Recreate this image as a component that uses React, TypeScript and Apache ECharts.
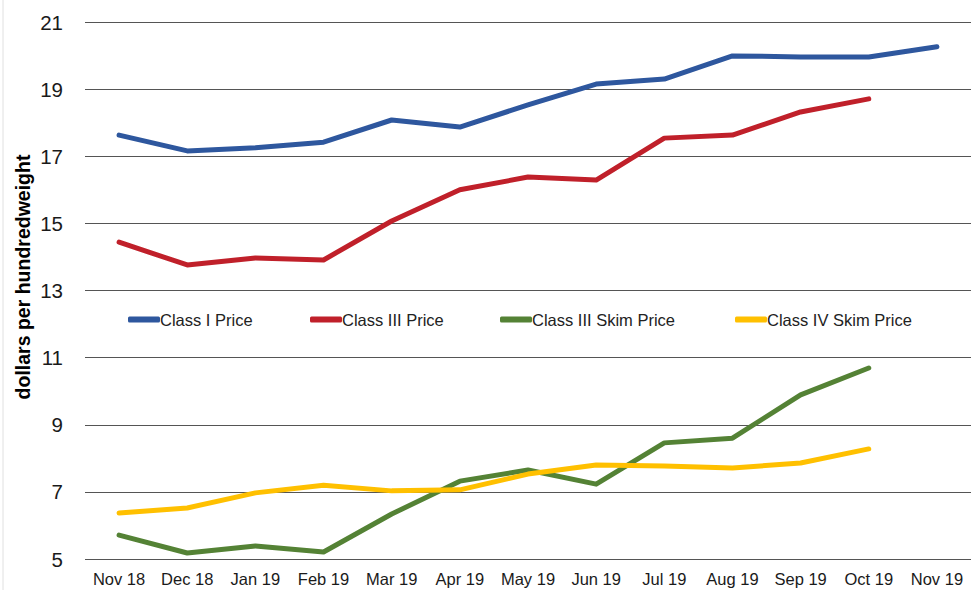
import React, { useEffect, useRef } from "react";
import * as echarts from "echarts";

const categories = ["Nov 18", "Dec 18", "Jan 19", "Feb 19", "Mar 19", "Apr 19", "May 19", "Jun 19", "Jul 19", "Aug 19", "Sep 19", "Oct 19", "Nov 19"];
const classI = [17.63, 17.16, 17.25, 17.42, 18.08, 17.87, 18.53, 19.15, 19.3, 19.99, 19.96, 19.96, 20.26];
const classIII = [14.44, 13.76, 13.97, 13.91, 15.07, 16.0, 16.38, 16.29, 17.54, 17.63, 18.32, 18.71, null];
const classIIISkim = [5.71, 5.18, 5.39, 5.21, 6.34, 7.32, 7.65, 7.23, 8.46, 8.6, 9.89, 10.69, null];
const classIVSkim = [6.37, 6.52, 6.97, 7.2, 7.03, 7.06, 7.53, 7.8, 7.77, 7.71, 7.86, 8.28, null];

const seriesNames = ["Class I Price", "Class III Price", "Class III Skim Price", "Class IV Skim Price"];
const seriesColors = ["#2E579E", "#C0202A", "#548235", "#FFC000"];
const seriesData = [classI, classIII, classIIISkim, classIVSkim];
const legendLeft = [128, 310, 500, 735];
const yAxisTitle = "dollars per hundredweight";

const FONT = "'Liberation Sans', Arial, sans-serif";

export default function App() {
  const ref = useRef<HTMLDivElement>(null);
  useEffect(() => {
    if (!ref.current) return;
    const chart = echarts.init(ref.current, null, { renderer: "svg" });
    chart.setOption({
      animation: false,
      backgroundColor: "#ffffff",
      textStyle: { fontFamily: FONT },
      grid: { left: 85, right: 8, top: 22, bottom: 31, containLabel: false },
      legend: seriesNames.map((n, i) => ({
        data: [n],
        left: legendLeft[i],
        top: 311,
        icon: "roundRect",
        itemWidth: 32,
        itemHeight: 6,
        itemGap: 0,
        textStyle: { fontFamily: FONT, fontSize: 16.5, color: "#222", padding: [0, 0, 0, -5] },
        padding: 0,
      })),
      xAxis: {
        type: "category",
        data: categories,
        boundaryGap: true,
        axisLine: { show: false },
        axisTick: { show: false },
        axisLabel: { fontFamily: FONT, fontSize: 16.5, color: "#1a1a1a", margin: 11, interval: 0 },
      },
      yAxis: {
        type: "value",
        min: 5,
        max: 21,
        interval: 2,
        axisLine: { show: false },
        axisTick: { show: false },
        axisLabel: { fontFamily: FONT, fontSize: 20.5, color: "#1a1a1a", margin: 22 },
        splitLine: { lineStyle: { color: "#555", width: 1 } },
      },
      series: seriesNames.map((n, i) => ({
        name: n,
        type: "line",
        data: seriesData[i],
        showSymbol: false,
        symbol: "none",
        color: seriesColors[i],
        lineStyle: { width: 5, color: seriesColors[i], cap: "round", join: "round" },
        itemStyle: { color: seriesColors[i] },
      })),
      graphic: [
        { type: "line", shape: { x1: 3, y1: 0, x2: 3, y2: 590 }, style: { stroke: "#e0e0e0", lineWidth: 1 } },
        {
          type: "text",
          x: 23,
          y: 277,
          rotation: Math.PI / 2,
          style: {
            text: yAxisTitle,
            font: "bold 19.5px 'Liberation Sans', Arial, sans-serif",
            fill: "#000",
            align: "center",
            verticalAlign: "middle",
          },
        },
      ],
    });
    return () => chart.dispose();
  }, []);
  return <div ref={ref} style={{ position: "fixed", left: 0, top: 0, width: 979, height: 590 }} />;
}
